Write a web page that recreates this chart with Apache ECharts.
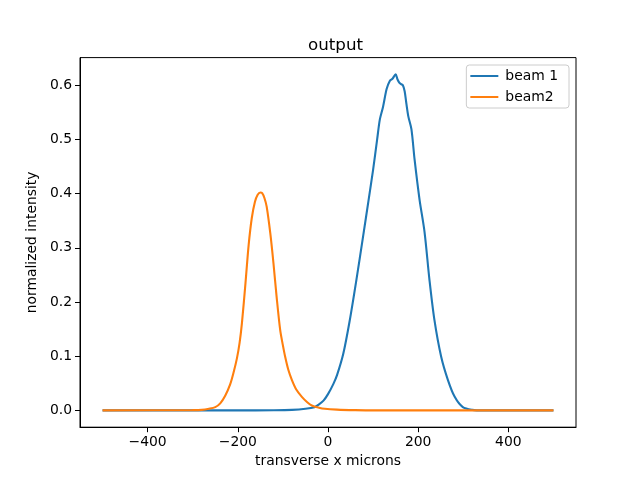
<!DOCTYPE html>
<html>
<head>
<meta charset="utf-8">
<script src="https://cdn.jsdelivr.net/npm/echarts@6/dist/echarts.min.js"></script>
<style>html,body{margin:0;padding:0;background:#fff}#c{width:640px;height:480px}</style>
</head>
<body>
<div id="c"></div>
<script>
const beam1X = [-500,-300,-200,-120,-80,-50,-30,-20,-10,0,12,20,34,48,63,78,90,100,109,115,122,130,137,143,150,154,158,162,166,170,174,178,185,192,203,214,225,236,251,266,281,299,320,345,400,500];
const beam1Y = [0,0,0,0.0003,0.001,0.003,0.006,0.011,0.018,0.030,0.049,0.065,0.105,0.165,0.241,0.322,0.388,0.444,0.500,0.537,0.560,0.593,0.608,0.612,0.620,0.611,0.605,0.602,0.600,0.589,0.565,0.543,0.519,0.463,0.389,0.330,0.241,0.167,0.099,0.056,0.025,0.006,0.001,0,0,0];
const beam2X = [-500,-300,-280,-264,-250,-239,-228,-217,-210,-202,-196,-191,-183,-176,-169,-162,-156,-150,-146,-141,-136,-128,-121,-114,-106,-100,-95,-88,-80,-70,-58,-46,-36,-20,-7,20,60,100,200,500];
const beam2Y = [0,0.0005,0.001,0.003,0.006,0.013,0.027,0.048,0.068,0.096,0.125,0.160,0.235,0.305,0.355,0.385,0.398,0.402,0.401,0.392,0.376,0.327,0.272,0.210,0.148,0.120,0.099,0.075,0.056,0.038,0.025,0.015,0.009,0.005,0.003,0.0015,0.0005,0,0,0];
const xTicks = [-400,-200,0,200,400];
const yTicks = [0,0.1,0.2,0.3,0.4,0.5,0.6];
const seriesNames = ['beam 1','beam2'];
const colors = ['#1f77b4','#ff7f0e'];

const zip = (xs, ys) => xs.map((x, i) => [x, ys[i]]);
const font = 'DejaVu Sans';
const chart = echarts.init(document.getElementById('c'), null, {renderer: 'canvas'});
chart.setOption({
  animation: false,
  backgroundColor: '#fff',
  title: {
    text: 'output', left: 303, top: 32,
    textStyle: {fontFamily: font, fontSize: 16.7, fontWeight: 'normal', color: '#000'}
  },
  grid: {left: 80, right: 64, top: 57.6, bottom: 52.8, show: true, borderColor: '#000', borderWidth: 1, containLabel: false},
  legend: {
    data: seriesNames.map(n => ({name: n, icon: 'rect'})),
    orient: 'vertical', right: 71, top: 65,
    itemWidth: 28, itemHeight: 2, itemGap: 7,
    padding: [4, 11, 4, 4],
    borderColor: '#cccccc', borderWidth: 1, borderRadius: 3,
    backgroundColor: 'rgba(255,255,255,0.8)',
    textStyle: {fontFamily: font, fontSize: 13.9, color: '#000', padding: [0, 0, 0, 2]}
  },
  xAxis: {
    type: 'value', min: -550, max: 550,
    name: 'transverse x microns', nameLocation: 'middle', nameGap: 27,
    nameTextStyle: {fontFamily: font, fontSize: 13.9, color: '#000'},
    axisLine: {show: true, onZero: false, lineStyle: {color: '#000', width: 1}},
    axisTick: {show: true, length: 5, lineStyle: {color: '#000'}, customValues: xTicks},
    axisLabel: {customValues: xTicks, margin: 8, fontFamily: font, fontSize: 13.9, color: '#000',
      formatter: v => String(v).replace('-', '\u2212')},
    splitLine: {show: false}
  },
  yAxis: {
    type: 'value', min: -0.031, max: 0.651,
    name: 'normalized intensity', nameLocation: 'middle', nameGap: 38,
    nameTextStyle: {fontFamily: font, fontSize: 13.9, color: '#000'},
    axisLine: {show: true, onZero: false, lineStyle: {color: '#000', width: 1}},
    axisTick: {show: true, length: 5, lineStyle: {color: '#000'}, customValues: yTicks},
    axisLabel: {customValues: yTicks, margin: 8, fontFamily: font, fontSize: 13.9, color: '#000',
      formatter: v => v.toFixed(1)},
    splitLine: {show: false}
  },
  series: [
    {name: seriesNames[0], type: 'line', data: zip(beam1X, beam1Y), showSymbol: false, symbol: 'none',
     smooth: 0.3, lineStyle: {color: colors[0], width: 2.1}, itemStyle: {color: colors[0]}},
    {name: seriesNames[1], type: 'line', data: zip(beam2X, beam2Y), showSymbol: false, symbol: 'none',
     smooth: 0.3, lineStyle: {color: colors[1], width: 2.1}, itemStyle: {color: colors[1]}}
  ]
});
</script>
</body>
</html>
